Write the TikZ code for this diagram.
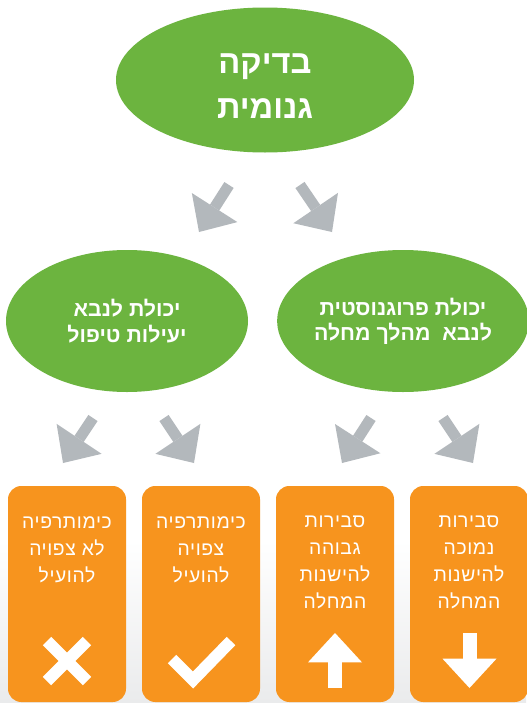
\documentclass[tikz,border=0pt]{standalone}
\usepackage{fontspec}
\newfontfamily\hebfont[Script=Hebrew]{Liberation Sans}
\newfontfamily\hebcardfont[Script=Hebrew,LetterSpace=3]{Liberation Sans}
\TeXXeTstate=1
\usetikzlibrary{shapes.geometric,arrows.meta,positioning}

\definecolor{gnmgreen}{RGB}{108,180,63}
\definecolor{gnmorange}{RGB}{247,148,30}
\definecolor{gnmgray}{RGB}{179,184,188}
\definecolor{bggray}{RGB}{234,235,236}

\newcommand{\hebline}[1]{\beginR #1\endR}

\tikzset{
  bubble/.style={ellipse, fill=gnmgreen, draw=none, inner sep=0pt, text=white, align=center, font=\hebfont\bfseries},
  card/.style={rounded corners=10pt, fill=gnmorange, draw=none, inner sep=0pt, minimum width=88.5pt, minimum height=162pt},
  cardtext/.style={text=white, align=center, anchor=north, inner sep=0pt, font=\hebcardfont\fontsize{14.5}{20.25}\selectfont},
  fatarrow/.style={draw=gnmgray, line width=8.25pt, -{Triangle[width=40.5pt,length=21.75pt,line width=0pt]}},
  icon/.style={draw=white, line width=9pt},
  iconarrow/.style={draw=white, line width=10.5pt, -{Triangle[width=40.5pt,length=22pt,line width=0pt]}},
}

\begin{document}
\begin{tikzpicture}[x=0.75pt,y=0.75pt,yscale=-1,xscale=1]
  \useasboundingbox (0,0) rectangle (526,703);

  %Background
  \fill [white] (0,0) rectangle (526,703);
  \shade [top color=white, bottom color=bggray] (0,540) rectangle (526,703);

  %Shape: Ellipse - top
  \node [bubble, minimum width=223.5pt, minimum height=108.75pt] (test) at (265,80) {};
  % Text Node
  \node [text=white, align=center, inner sep=0pt, font=\hebfont\bfseries\fontsize{24.5}{33.75}\selectfont] (testtxt) at (265,86) {\hebline{בדיקה}\\ \hebline{גנומית}};
  %Shape: Ellipse - left
  \node [bubble, minimum width=181.5pt, minimum height=106.5pt, font=\hebfont\bfseries\fontsize{16}{19}\selectfont] (response) at (127,321) {\hebline{יכולת לנבא}\\ \hebline{יעילות טיפול}};
  %Shape: Ellipse - right
  \node [bubble, minimum width=179.25pt, minimum height=106.5pt, font=\hebfont\bfseries\fontsize{16}{19}\selectfont] (prognosis) at (403,321) {\hebline{יכולת פרוגנוסטית}\\ \hebline{לנבא~ מהלך מחלה}};

  %Arrows
  \coordinate (a1s) at (229,185);  \coordinate (a1e) at (199,232);
  \coordinate (a2s) at (300,185);  \coordinate (a2e) at (332,232);
  \coordinate (a3s) at (93,418);   \coordinate (a3e) at (63,463);
  \coordinate (a4s) at (164,418);  \coordinate (a4e) at (194,463);
  \coordinate (a5s) at (371,418);  \coordinate (a5e) at (342,463);
  \coordinate (a6s) at (443,418);  \coordinate (a6e) at (473,463);
  \draw [fatarrow] (a1s) -- (a1e);
  \draw [fatarrow] (a2s) -- (a2e);
  \draw [fatarrow] (a3s) -- (a3e);
  \draw [fatarrow] (a4s) -- (a4e);
  \draw [fatarrow] (a5s) -- (a5e);
  \draw [fatarrow] (a6s) -- (a6e);

  %Shape: Rounded Rect - cards
  \node [card] (noben) at (67,594) {};
  \node [card] (ben) at (201,594) {};
  \node [card] (high) at (335,594) {};
  \node [card] (low) at (469,594) {};

  % Text Node
  \node [cardtext] (nobentxt) at (67,516) {\hebline{כימותרפיה}\\ \hebline{לא צפויה}\\ \hebline{להועיל}};
  % Text Node
  \node [cardtext] (bentxt) at (201,516) {\hebline{כימותרפיה}\\ \hebline{צפויה}\\ \hebline{להועיל}};
  % Text Node
  \node [cardtext] (hightxt) at (335,516) {\hebline{סבירות}\\ \hebline{גבוהה}\\ \hebline{להישנות}\\ \hebline{המחלה}};
  % Text Node
  \node [cardtext] (lowtxt) at (469,516) {\hebline{סבירות}\\ \hebline{נמוכה}\\ \hebline{להישנות}\\ \hebline{המחלה}};

  %Icons
  \draw [icon] (47,641) -- (87,681) (87,641) -- (47,681);
  \draw [icon] (172,659) -- (193,680) -- (231,641);
  \coordinate (ups) at (335,688);   \coordinate (upe) at (335,633);
  \coordinate (dns) at (469.5,633); \coordinate (dne) at (469.5,688);
  \draw [iconarrow] (ups) -- (upe);
  \draw [iconarrow] (dns) -- (dne);
\end{tikzpicture}
\end{document}
